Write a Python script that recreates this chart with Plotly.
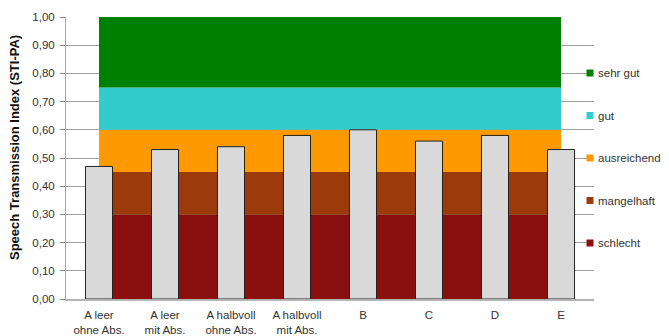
import plotly.graph_objects as go

# Measured speech intelligibility per room configuration
categories = ["A leer<br>ohne Abs.", "A leer<br>mit Abs.", "A halbvoll<br>ohne Abs.",
              "A halbvoll<br>mit Abs.", "B", "C", "D", "E"]
sti_values = [0.47, 0.53, 0.54, 0.58, 0.60, 0.56, 0.58, 0.53]

# Rating bands (lower and upper STI bound)
band_names = ["schlecht", "mangelhaft", "ausreichend", "gut", "sehr gut"]
band_lower = [0.00, 0.30, 0.45, 0.60, 0.75]
band_upper = [0.30, 0.45, 0.60, 0.75, 1.00]
band_colors = ["#8A1010", "#9C3A0C", "#FF9900", "#33CCCC", "#008000"]

y_ticks = [i / 10 for i in range(11)]

FONT = "Liberation Sans, Arial, sans-serif"
TEXT = "#333333"

W, H = 669, 336
L, R, T, B = 66, 75, 17, 37
plot_w = W - L - R
plot_h = H - T - B

x_idx = list(range(len(categories)))
span_center = (x_idx[0] + x_idx[-1]) / 2
span_width = x_idx[-1] - x_idx[0]

fig = go.Figure()

# Background rating bands spanning from first to last category centre
for name, lo, hi, col in zip(band_names, band_lower, band_upper, band_colors):
    fig.add_trace(go.Bar(
        x=[span_center], y=[hi - lo], base=[lo], width=[span_width],
        marker=dict(color=col, line=dict(width=0)),
        name=name, showlegend=False, hoverinfo="skip",
    ))

# Measured values
fig.add_trace(go.Bar(
    x=x_idx, y=sti_values, width=0.41,
    marker=dict(color="#D9D9D9", line=dict(color="#222222", width=1)),
    showlegend=False, name="STI-PA",
))

# Legend: coloured square + label, top entry = best rating
def px_to_paper_x(px):
    return (px - L) / plot_w

def px_to_paper_y(py):
    return (H - B - py) / plot_h

legend_top, legend_step = 73, 42.5
shapes = []
annotations = []
for i, (name, col) in enumerate(zip(band_names[::-1], band_colors[::-1])):
    cy = legend_top + i * legend_step
    shapes.append(dict(
        type="rect", xref="paper", yref="paper",
        x0=px_to_paper_x(586.5), x1=px_to_paper_x(593.5),
        y0=px_to_paper_y(cy + 3.5), y1=px_to_paper_y(cy - 3.5),
        fillcolor=col, line=dict(width=0), layer="above",
    ))
    annotations.append(dict(
        xref="paper", yref="paper", x=px_to_paper_x(595.5), y=px_to_paper_y(cy),
        text=name, showarrow=False, xanchor="left", yanchor="middle",
        font=dict(family=FONT, size=11.5, color=TEXT),
    ))

annotations.append(dict(
    xref="paper", yref="paper", x=px_to_paper_x(15), y=px_to_paper_y(148),
    text="<b>Speech Transmission Index (STI-PA)</b>", textangle=-90,
    showarrow=False, xanchor="center", yanchor="middle",
    font=dict(family=FONT, size=13, color="#111111"),
))

fig.update_layout(
    width=W, height=H,
    margin=dict(l=L, r=R, t=T, b=B, pad=0, autoexpand=False),
    barmode="overlay",
    paper_bgcolor="white", plot_bgcolor="white",
    separators=",.",
    showlegend=False,
    shapes=shapes,
    annotations=annotations,
    font=dict(family=FONT, size=11, color=TEXT),
    xaxis=dict(
        range=[-0.5, len(categories) - 0.5],
        tickmode="array", tickvals=x_idx, ticktext=categories,
        showgrid=False, zeroline=False, automargin=False,
        showline=True, linecolor="#B4B4B4", linewidth=2,
        ticks="", ticklabelstandoff=4,
        tickfont=dict(family=FONT, size=11.5, color=TEXT),
    ),
    yaxis=dict(
        range=[0, 1], tickmode="array", tickvals=y_ticks, tickformat=".2f",
        showgrid=True, gridcolor="#A0A0A0", gridwidth=1,
        zeroline=False, automargin=False,
        showline=True, linecolor="#A8A8A8", linewidth=1,
        ticks="outside", ticklen=5, tickcolor="#808080",
        ticklabelstandoff=3,
        tickfont=dict(family=FONT, size=11.5, color=TEXT),
    ),
)

fig.write_html("out.html")
